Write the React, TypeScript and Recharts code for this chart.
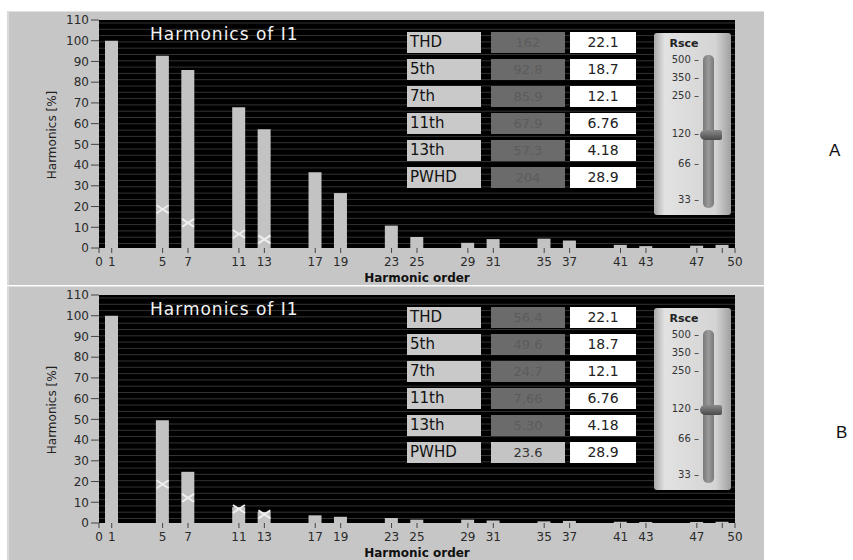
import React from "react";
import { ComposedChart, Bar, Line, XAxis, YAxis, CartesianGrid } from "recharts";

// harmonic orders that have a bar
const harmonics = [1, 5, 7, 11, 13, 17, 19, 23, 25, 29, 31, 35, 37, 41, 43, 47, 49];
const levelsA = [100, 92.8, 85.9, 67.9, 57.3, 36.5, 26.5, 10.8, 5.3, 2.5, 4.3, 4.5, 3.6, 1.5, 0.9, 1.1, 1.5];
const levelsB = [100, 49.6, 24.7, 7.66, 5.3, 3.7, 3.0, 2.4, 1.6, 1.6, 1.2, 0.8, 1.0, 0.6, 0.5, 0.5, 0.6];

// limit markers (white crosses)
const limitOrders = [5, 7, 11, 13];
const limitValues = [18.7, 12.1, 6.76, 4.18];

// indicator table
const rowLabels = ["THD", "5th", "7th", "11th", "13th", "PWHD"];
const measuredA = [162, 92.8, 85.9, 67.9, 57.3, 204];
const measuredB = [56.4, 49.6, 24.7, 7.66, 5.3, 23.6];
const rowLimits = [22.1, 18.7, 12.1, 6.76, 4.18, 28.9];

const xTicks = [0, 1, 5, 7, 11, 13, 17, 19, 23, 25, 29, 31, 35, 37, 41, 43, 47, 49, 50];
const yTicks = [0, 10, 20, 30, 40, 50, 60, 70, 80, 90, 100, 110];

const rsceTicks = [500, 350, 250, 120, 66, 33];
const rsceValue = 120;

const FONT = "'DejaVu Sans', Verdana, sans-serif";

const buildData = (levels: number[]) =>
  harmonics.map((h, i) => {
    const k = limitOrders.indexOf(h);
    return { h, level: levels[i], limit: k >= 0 ? limitValues[k] : null };
  });

const Cross = (props: any) => {
  const { cx, cy, value } = props;
  if (value == null || cy == null || isNaN(cy)) return null;
  return (
    <g>
      <line x1={cx - 6} y1={cy - 4} x2={cx + 6} y2={cy + 4} stroke="#eeeeee" strokeWidth={2} />
      <line x1={cx - 6} y1={cy + 4} x2={cx + 6} y2={cy - 4} stroke="#eeeeee" strokeWidth={2} />
    </g>
  );
};

const stripes = ({ offset }: any) => {
  const out: number[] = [];
  for (let y = offset.top + 3; y < offset.top + offset.height; y += 6.3) out.push(y);
  return out;
};

// log position on the Rsce scale, 0..1 from top
const rscePos = (v: number) =>
  (Math.log(rsceTicks[0]) - Math.log(v)) /
  (Math.log(rsceTicks[0]) - Math.log(rsceTicks[rsceTicks.length - 1]));

const Slider = () => {
  const y0 = 28;
  const span = 140;
  return (
    <div
      style={{
        position: "absolute",
        left: 645,
        top: 21,
        width: 77,
        height: 182,
        borderRadius: 3,
        background: "linear-gradient(to right, #a9a9a9, #e2e2e2 14%, #d4d4d4 80%, #a0a0a0)",
        fontFamily: FONT,
      }}
    >
      <div style={{ position: "absolute", top: 4, left: 0, width: 60, textAlign: "center", fontSize: 11, fontWeight: "bold", color: "#222" }}>
        Rsce
      </div>
      <div
        style={{
          position: "absolute",
          left: 49,
          top: 22,
          width: 11,
          height: 153,
          borderRadius: 5,
          background: "linear-gradient(to right, #7a7a7a, #9a9a9a, #7a7a7a)",
        }}
      />
      {rsceTicks.map((t) => (
        <div
          key={t}
          style={{
            position: "absolute",
            right: 32,
            top: y0 + rscePos(t) * span - 7,
            fontSize: 10,
            color: "#333",
            whiteSpace: "nowrap",
          }}
        >
          {t} –
        </div>
      ))}
      <div
        style={{
          position: "absolute",
          left: 46,
          top: y0 + rscePos(rsceValue) * span - 5,
          width: 22,
          height: 10,
          borderRadius: "5px 2px 2px 5px",
          background: "linear-gradient(to bottom, #8a8a8a, #4a4a4a)",
        }}
      />
    </div>
  );
};

const Panel = ({ top, height, plotH, levels, measured }: any) => {
  const data = buildData(levels);
  return (
    <div
      style={{
        position: "absolute",
        left: 7,
        top,
        width: 757,
        height,
        background: "#c6c6c6",
        borderTop: "1px solid #e0e0e0",
        borderLeft: "2px solid #dadada",
        boxSizing: "border-box",
        overflow: "hidden",
        fontFamily: FONT,
      }}
    >
      <div style={{ position: "absolute", left: -2, top: -1 }}>
        <ComposedChart
          width={757}
          height={9 + plotH + 35 + 5}
          data={data}
          margin={{ top: 9, right: 29, left: 0, bottom: 5 }}
        >
          <CartesianGrid
            vertical={false}
            fill="#000000"
            fillOpacity={1}
            stroke="#333333"
            horizontalCoordinatesGenerator={stripes}
          />
          <XAxis
            dataKey="h"
            type="number"
            domain={[0, 50]}
            ticks={xTicks}
            interval={0}
            height={35}
            axisLine={false}
            tickSize={5}
            tickMargin={4}
            tickLine={{ stroke: "#444" }}
            tick={{ fontSize: 12, fill: "#2a2a2a", fontFamily: FONT }}
            tickFormatter={(v: number) => (v === 49 ? "" : String(v))}
            label={{ value: "Harmonic order", position: "insideBottom", offset: 1, fontSize: 12, fontWeight: "bold", fill: "#111", fontFamily: FONT }}
          />
          <YAxis
            type="number"
            domain={[0, 110]}
            ticks={yTicks}
            interval={0}
            width={92}
            axisLine={false}
            tickSize={8}
            tickMargin={2}
            tickLine={{ stroke: "#444" }}
            tick={{ fontSize: 12, fill: "#2a2a2a", fontFamily: FONT }}
          />
          <Bar dataKey="level" fill="#c3c3c3" barSize={13} isAnimationActive={false} />
          <Line dataKey="limit" stroke="none" dot={Cross} activeDot={false} isAnimationActive={false} />
        </ComposedChart>
      </div>

      <div
        style={{
          position: "absolute",
          left: 43,
          top: 123,
          transform: "translate(-50%, -50%) rotate(-90deg)",
          fontSize: 12,
          color: "#222",
          whiteSpace: "nowrap",
        }}
      >
        Harmonics [%]
      </div>

      <div style={{ position: "absolute", left: 141, top: 12, color: "#f2f2f2", fontSize: 17, letterSpacing: 1, whiteSpace: "nowrap" }}>
        Harmonics of I1
      </div>

      {rowLabels.map((label, i) => {
        const exceeds = measured[i] > rowLimits[i];
        const y = 20 + i * 27;
        return (
          <React.Fragment key={label}>
            <div
              style={{
                position: "absolute", left: 398, top: y, width: 74, height: 21,
                background: "#c9c9c9", color: "#111", fontSize: 15, lineHeight: "21px", paddingLeft: 3, boxSizing: "border-box",
              }}
            >
              {label}
            </div>
            <div
              style={{
                position: "absolute", left: 482, top: y, width: 74, height: 21,
                background: exceeds ? "#6b6b6b" : "#c4c4c4", color: exceeds ? "#5c5c5c" : "#333",
                fontSize: 13, lineHeight: "21px", textAlign: "center",
              }}
            >
              {measured[i].toPrecision(3)}
            </div>
            <div
              style={{
                position: "absolute", left: 561, top: y, width: 66, height: 21,
                background: "#ffffff", color: "#222", fontSize: 14, lineHeight: "21px", textAlign: "center",
              }}
            >
              {rowLimits[i].toPrecision(3)}
            </div>
          </React.Fragment>
        );
      })}

      <Slider />
    </div>
  );
}

export default function App() {
  return (
    <div style={{ position: "absolute", left: 0, top: 0, width: 853, height: 560, background: "#fff", overflow: "hidden" }}>
      <Panel top={11} height={274} plotH={228} levels={levelsA} measured={measuredA} />
      <Panel top={286} height={274} plotH={228} levels={levelsB} measured={measuredB} />
      <div style={{ position: "absolute", left: 829, top: 141, fontSize: 17, fontFamily: "'Liberation Sans', Arial, sans-serif", color: "#111" }}>A</div>
      <div style={{ position: "absolute", left: 836, top: 423, fontSize: 17, fontFamily: "'Liberation Sans', Arial, sans-serif", color: "#111" }}>B</div>
    </div>
  );
}
